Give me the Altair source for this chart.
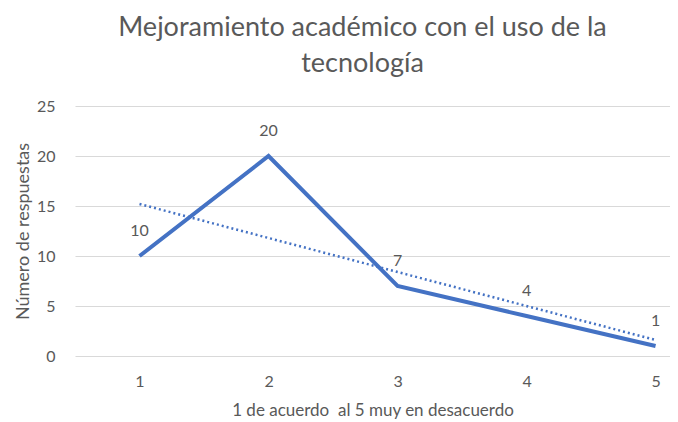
import altair as alt
import pandas as pd

categories = [1, 2, 3, 4, 5]
respuestas = [10, 20, 7, 4, 1]
y_ticks = [0, 5, 10, 15, 20, 25]

df = pd.DataFrame({"cat": categories, "val": respuestas})

BLUE = "#4472C4"
GRAY = "#595959"
FONT = "Lato"

x_enc = alt.X("cat:Q",
              scale=alt.Scale(domain=[0.5, 5.112], nice=False, zero=False),
              axis=alt.Axis(values=categories, title="1 de acuerdo\u00a0 al 5 muy en desacuerdo",
                            grid=False, ticks=False, domain=False, labelPadding=17,
                            labelFontSize=16, labelColor=GRAY, labelFont=FONT,
                            titleFontSize=17, titleColor=GRAY, titleFont=FONT,
                            titleFontWeight="normal", titlePadding=13, format="d"))
y_enc = alt.Y("val:Q",
              scale=alt.Scale(domain=[0, 25], nice=False),
              axis=alt.Axis(values=y_ticks, title="Número de respuestas",
                            grid=True, gridColor="#d9d9d9", ticks=False, domain=False,
                            labelPadding=20, labelFontSize=16, labelColor=GRAY, labelFont=FONT,
                            titleFontSize=18, titleColor=GRAY, titleFont=FONT,
                            titleFontWeight="normal", titlePadding=4))

base = alt.Chart(df)

line = base.mark_line(color=BLUE, strokeWidth=4, strokeJoin="miter").encode(x=x_enc, y=y_enc)

trend = base.transform_regression("cat", "val").mark_line(
    color=BLUE, strokeWidth=2.5, strokeDash=[2, 3]
).encode(x="cat:Q", y="val:Q")

labels = base.mark_text(dy=-25, fontSize=16, color=GRAY, font=FONT).encode(
    x="cat:Q", y="val:Q", text="val:Q")

chart = alt.layer(line, trend, labels).properties(
    width=595, height=250,
    title=alt.TitleParams(["Mejoramiento académico con el uso de la", "tecnología"],
                          font=FONT, fontSize=27, fontWeight="normal", color=GRAY,
                          anchor="middle", dx=-10, offset=20, lineHeight=36),
    autosize=alt.AutoSizeParams(type="none"),
    padding={"left": 67, "top": 98, "right": 0, "bottom": 68},
).configure_view(stroke=None)

chart.save("out.html", embed_options={"renderer": "svg", "actions": False})
